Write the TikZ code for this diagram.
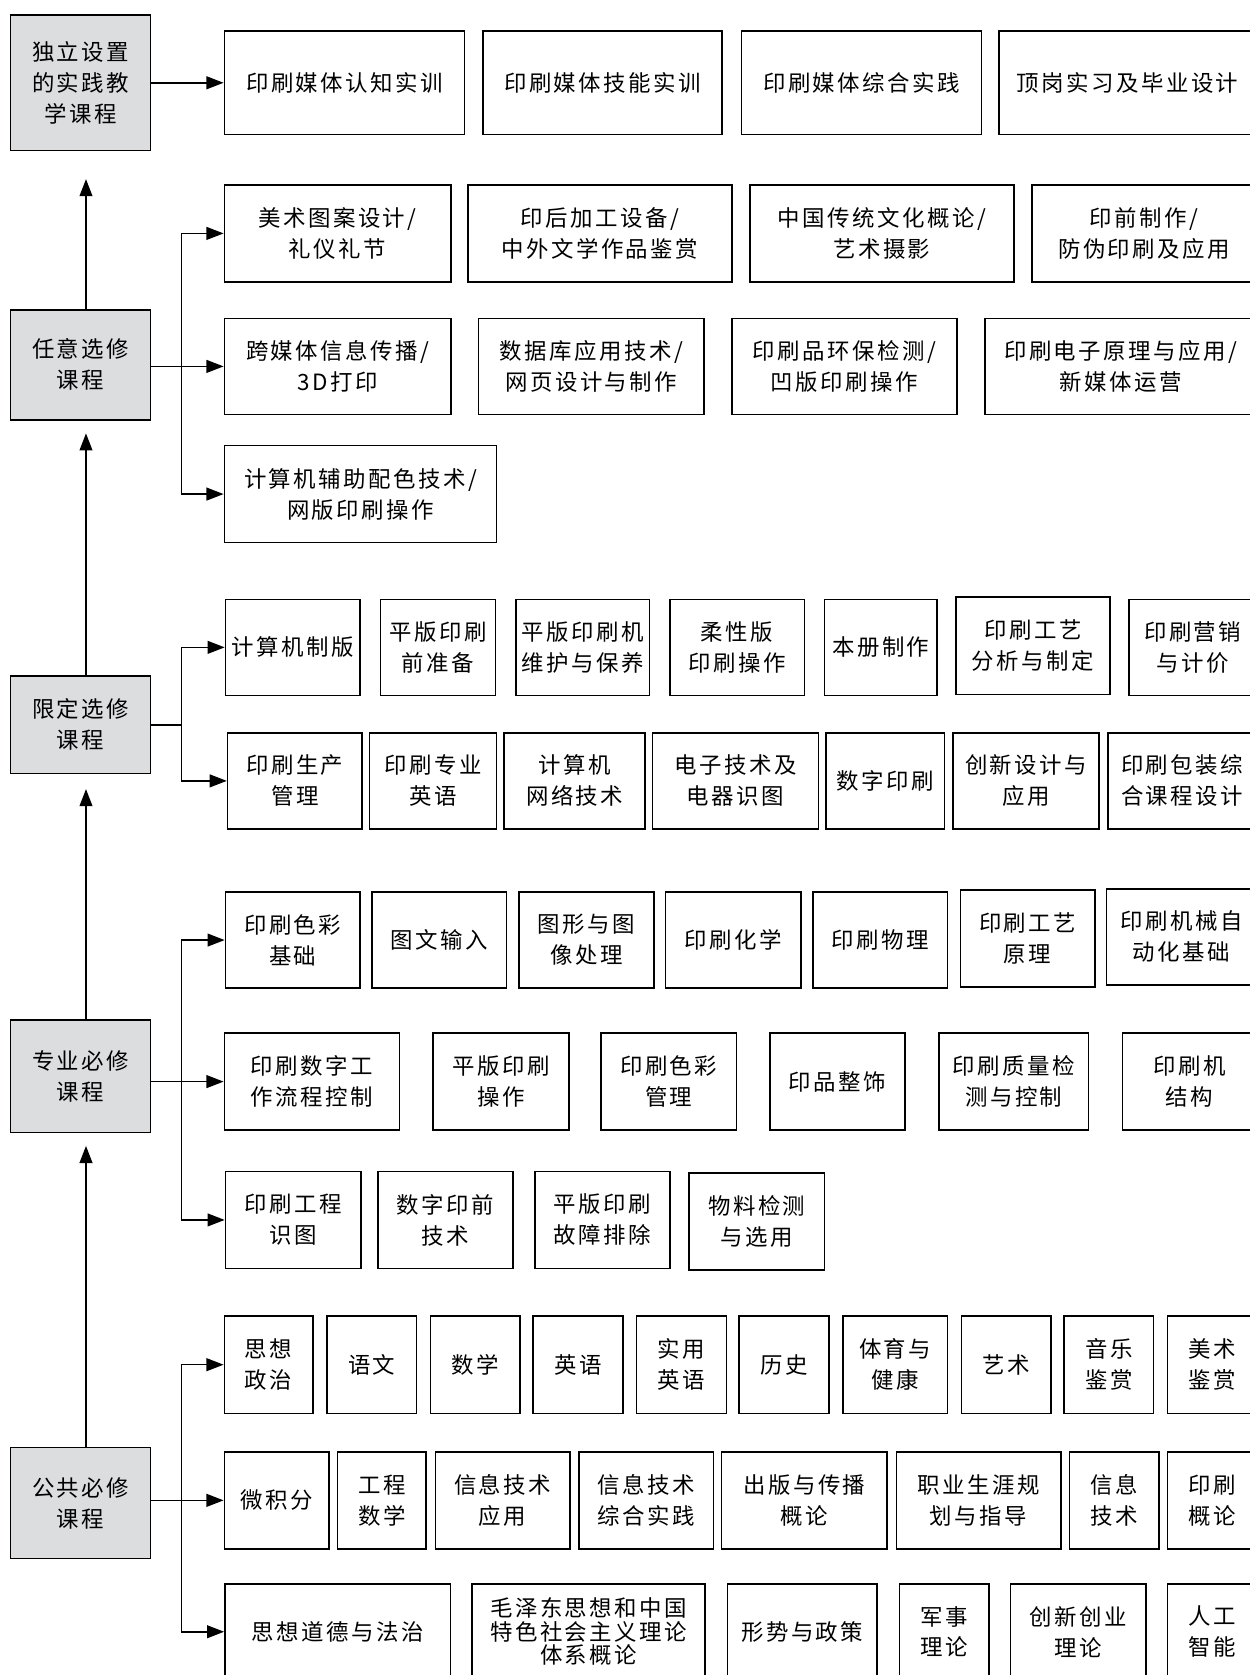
\documentclass[tikz,border=0pt]{standalone}
\usepackage{fontspec}
\setmainfont{Noto Sans CJK SC}[LetterSpace=11]
\usetikzlibrary{arrows.meta}
\definecolor{catgray}{RGB}{220,221,223}
\tikzset{
  course/.style 2 args={draw, line width=1.4pt, minimum width=#1, minimum height=#2, inner sep=0pt, align=center, font=\fontsize{21}{29}\selectfont},
  catbox/.style 2 args={course={#1}{#2}, fill=catgray},
  arr/.style={line width=1.4pt, -{Triangle[length=16pt,width=12pt]}},
}
\begin{document}
\begin{tikzpicture}[x=1pt,y=-1pt]
\useasboundingbox (0,0) rectangle (1170,1568);
\node[catbox={131}{127}] (duli) at (75.5,77.5){独立设置\\的实践教\\学课程};
\node[catbox={131}{103}] (renyi) at (75.5,341.5){任意选修\\课程};
\node[catbox={131}{91}] (xianding) at (75.5,678.5){限定选修\\课程};
\node[catbox={131}{105}] (zhuanye) at (75.5,1007.5){专业必修\\课程};
\node[catbox={131}{104}] (gonggong) at (75.5,1407){公共必修\\课程};
\draw[arr, shorten >=26pt] ([xshift=5pt]renyi.north) -- ([xshift=5pt]duli.south);
\draw[arr, shorten >=12pt] ([xshift=5pt]xianding.north) -- ([xshift=5pt]renyi.south);
\draw[arr, shorten >=14pt] ([xshift=5pt]zhuanye.north) -- ([xshift=5pt]xianding.south);
\draw[arr, shorten >=12pt] ([xshift=5pt]gonggong.north) -- ([xshift=5pt]zhuanye.south);

\node[course={225}{97}] (p1) at (322.5,77.5){印刷媒体认知实训};
\node[course={224}{97}] (p2) at (564,77.5){印刷媒体技能实训};
\node[course={225}{97}] (p3) at (806.5,77.5){印刷媒体综合实践};
\node[course={241}{97}] (p4) at (1055.5,77.5){顶岗实习及毕业设计};
\draw[arr] (duli) -- (p1);

\node[course={212}{91}] (r2a) at (316,218.5){美术图案设计/\\礼仪礼节};
\node[course={247}{91}] (r2b) at (561.5,218.5){印后加工设备/\\中外文学作品鉴赏};
\node[course={247}{91}] (r2c) at (825.5,218.5){中国传统文化概论/\\艺术摄影};
\node[course={210}{91}] (r2d) at (1071,218.5){印前制作/\\防伪印刷及应用};
\node[course={212}{90}] (r3a) at (316,343){跨媒体信息传播/\\3D打印};
\node[course={211}{90}] (r3b) at (553.5,343){数据库应用技术/\\网页设计与制作};
\node[course={211}{90}] (r3c) at (790.5,343){印刷品环保检测/\\凹版印刷操作};
\node[course={254}{90}] (r3d) at (1049,343){印刷电子原理与应用/\\新媒体运营};
\node[course={255}{91}] (r4a) at (337.5,462.5){计算机辅助配色技术/\\网版印刷操作};
\coordinate (j2) at (170,343);
\draw[arr] (renyi.east |- r3a) -- (r3a);
\draw[arr] (j2) |- (r2a);
\draw[arr] (j2) |- (r4a);

\node[course={126}{90}] (r5a) at (274,606){计算机制版};
\node[course={108}{90}] (r5b) at (410,606){平版印刷\\前准备};
\node[course={125}{90}] (r5c) at (545.5,606){平版印刷机\\维护与保养};
\node[course={126}{90}] (r5d) at (690,606){柔性版\\印刷操作};
\node[course={105}{90}] (r5e) at (824.5,606){本册制作};
\node[course={144}{91}] (r5f) at (967,604.5){印刷工艺\\分析与制定};
\node[course={119}{90}] (r5g) at (1116.5,606){印刷营销\\与计价};
\node[course={126}{90}] (r6a) at (276,731){印刷生产\\管理};
\node[course={119}{90}] (r6b) at (405.5,731){印刷专业\\英语};
\node[course={132}{90}] (r6c) at (538,731){计算机\\网络技术};
\node[course={155}{90}] (r6d) at (688.5,731){电子技术及\\电器识图};
\node[course={111}{90}] (r6e) at (828.5,731){数字印刷};
\node[course={137}{90}] (r6f) at (960.5,731){创新设计与\\应用};
\node[course={139}{90}] (r6g) at (1106.5,731){印刷包装综\\合课程设计};
\coordinate (j5) at (170,678.5);
\draw[line width=1.4pt] (xianding.east) -- (j5);
\draw[arr] (j5) |- (r5a);
\draw[arr] (j5) |- (r6a);

\node[course={126}{90}] (r7a) at (274,880){印刷色彩\\基础};
\node[course={126}{90}] (r7b) at (411,880){图文输入};
\node[course={126}{90}] (r7c) at (549,880){图形与图\\像处理};
\node[course={127}{90}] (r7d) at (686.5,880){印刷化学};
\node[course={126}{90}] (r7e) at (824,880){印刷物理};
\node[course={126}{91}] (r7f) at (962,878.5){印刷工艺\\原理};
\node[course={140}{90}] (r7g) at (1106,877){印刷机械自\\动化基础};
\node[course={164}{91}] (r8a) at (292,1012.5){印刷数字工\\作流程控制};
\node[course={127}{91}] (r8b) at (469,1012.5){平版印刷\\操作};
\node[course={127}{91}] (r8c) at (626,1012.5){印刷色彩\\管理};
\node[course={126}{91}] (r8d) at (784,1012.5){印品整饰};
\node[course={140}{91}] (r8e) at (949,1012.5){印刷质量检\\测与控制};
\node[course={125}{91}] (r8f) at (1113.5,1012.5){印刷机\\结构};
\node[course={127}{91}] (r9a) at (274.5,1142){印刷工程\\识图};
\node[course={126}{91}] (r9b) at (417,1142){数字印前\\技术};
\node[course={126}{91}] (r9c) at (564,1142){平版印刷\\故障排除};
\node[course={127}{91}] (r9d) at (708.5,1143.5){物料检测\\与选用};
\coordinate (j8) at (170,1012.5);
\draw[arr] (zhuanye.east |- r8a) -- (r8a);
\draw[arr] (j8) |- (r7a);
\draw[arr] (j8) |- (r9a);

\node[course={83}{91}] (r10a) at (251.5,1277.5){思想\\政治};
\node[course={84}{91}] (r10b) at (348,1277.5){语文};
\node[course={84}{91}] (r10c) at (445,1277.5){数学};
\node[course={84}{91}] (r10d) at (541,1277.5){英语};
\node[course={84}{91}] (r10e) at (638,1277.5){实用\\英语};
\node[course={84}{91}] (r10f) at (734,1277.5){历史};
\node[course={98}{91}] (r10g) at (838,1277.5){体育与\\健康};
\node[course={84}{91}] (r10h) at (942,1277.5){艺术};
\node[course={84}{91}] (r10i) at (1038,1277.5){音乐\\鉴赏};
\node[course={84}{91}] (r10j) at (1135,1277.5){美术\\鉴赏};
\node[course={98}{91}] (r11a) at (259,1404.5){微积分};
\node[course={83}{91}] (r11b) at (357.5,1404.5){工程\\数学};
\node[course={126}{91}] (r11c) at (470.5,1404.5){信息技术\\应用};
\node[course={126}{91}] (r11d) at (605,1404.5){信息技术\\综合实践};
\node[course={155}{91}] (r11e) at (753,1404.5){出版与传播\\概论};
\node[course={154}{91}] (r11f) at (916,1404.5){职业生涯规\\划与指导};
\node[course={84}{91}] (r11g) at (1043,1404.5){信息\\技术};
\node[course={84}{91}] (r11h) at (1135,1404.5){印刷\\概论};
\node[course={211}{89}] (r12a) at (316,1527.5){思想道德与法治};
\node[course={218}{89}, font=\fontsize{21}{22}\selectfont] (r12b) at (551,1527.5){毛泽东思想和中国\\特色社会主义理论\\体系概论};
\node[course={140}{89}] (r12c) at (751,1527.5){形势与政策};
\node[course={84}{89}] (r12d) at (884,1527.5){军事\\理论};
\node[course={127}{89}] (r12e) at (1009.5,1527.5){创新创业\\理论};
\node[course={84}{89}] (r12f) at (1135,1527.5){人工\\智能};
\coordinate (j11) at (170,1404.5);
\draw[arr] (gonggong.east |- r11a) -- (r11a);
\draw[arr] (j11) |- (r10a);
\draw[arr] (j11) |- (r12a);
\end{tikzpicture}
\end{document}
